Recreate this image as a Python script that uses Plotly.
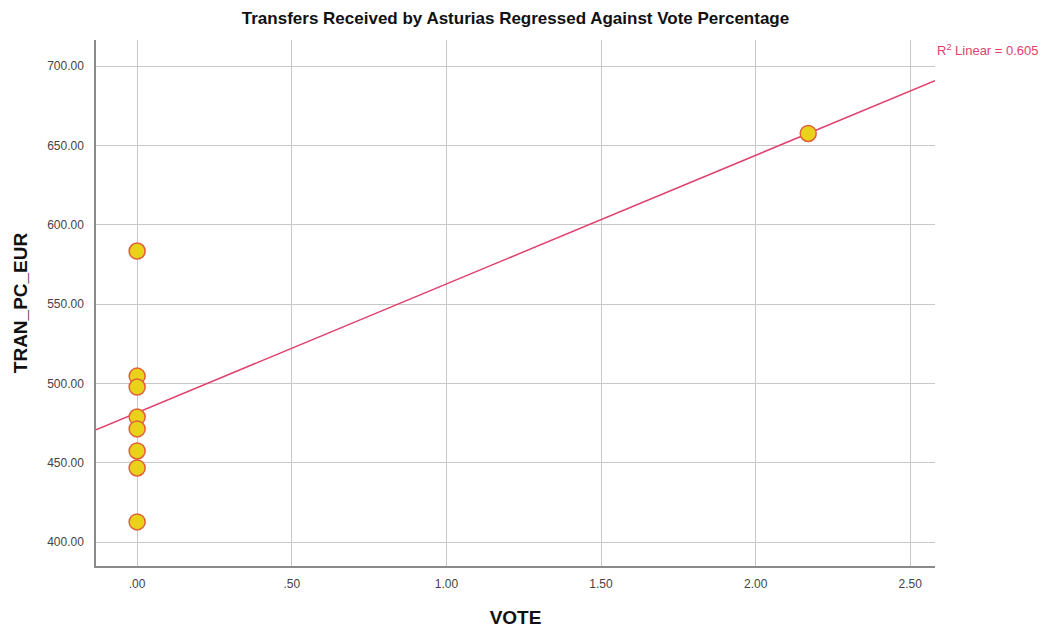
import numpy as np
import plotly.graph_objects as go

# Data
vote = [0.0, 0.0, 0.0, 0.0, 0.0, 0.0, 0.0, 0.0, 2.17]
tran_pc_eur = [583.4, 504.6, 497.7, 478.8, 471.3, 457.4, 446.7, 412.7, 657.5]
x_ticks = [0.0, 0.5, 1.0, 1.5, 2.0, 2.5]
x_tick_labels = [".00", ".50", "1.00", "1.50", "2.00", "2.50"]
y_ticks = [400, 450, 500, 550, 600, 650, 700]
y_tick_labels = ["400.00", "450.00", "500.00", "550.00", "600.00", "650.00", "700.00"]
r2_text = "0.605"

x_range = [-0.133, 2.58]
y_range = [384.9, 716.4]

slope, intercept = np.polyfit(vote, tran_pc_eur, 1)
line_x = np.array(x_range)
line_y = intercept + slope * line_x

FONT = "Liberation Sans, Arial, sans-serif"
LINE_COLOR = "#e0406e"

fig = go.Figure()
fig.add_trace(go.Scatter(
    x=line_x, y=line_y, mode="lines",
    line=dict(color=LINE_COLOR, width=1.5),
    hoverinfo="skip", showlegend=False, cliponaxis=True,
))
fig.add_trace(go.Scatter(
    x=vote, y=tran_pc_eur, mode="markers",
    marker=dict(size=16, color="#e8d31a", line=dict(color="#e0603a", width=1.5)),
    showlegend=False,
))

fig.update_layout(
    width=1048, height=628,
    margin=dict(l=96, r=113, t=40, b=62),
    paper_bgcolor="white", plot_bgcolor="white",
    font=dict(family=FONT, color="#333333"),
    title=dict(
        text="<b>Transfers Received by Asturias Regressed Against Vote Percentage</b>",
        x=(96 + 935) / 2 / 1048, xanchor="center", y=1 - 18 / 628, yanchor="middle",
        font=dict(size=17, color="#111111", family=FONT),
    ),
    xaxis=dict(
        range=x_range, tickvals=x_ticks, ticktext=x_tick_labels,
        showgrid=True, gridcolor="#c8c8c8", gridwidth=1,
        showline=True, linecolor="#8a8a8a", linewidth=1.5,
        zeroline=False, ticks="", automargin=False, ticklabelstandoff=6,
        tickfont=dict(size=12, color="#444444"),
        title=dict(text="<b>VOTE</b>", font=dict(size=19, color="#111111"), standoff=30),
    ),
    yaxis=dict(
        range=y_range, tickvals=y_ticks, ticktext=y_tick_labels,
        showgrid=True, gridcolor="#c8c8c8", gridwidth=1,
        showline=True, linecolor="#8a8a8a", linewidth=1.5,
        zeroline=False, ticks="", automargin=False, ticklabelstandoff=8,
        tickfont=dict(size=12, color="#444444"),
        title=dict(text="<b>TRAN_PC_EUR</b>", font=dict(size=19, color="#111111"), standoff=14),
    ),
    annotations=[dict(
        text="R<sup>2</sup> Linear = " + r2_text,
        xref="paper", yref="paper", x=1.0, y=(566 - 50) / 526,
        xanchor="left", yanchor="middle", showarrow=False,
        font=dict(size=13, color=LINE_COLOR, family=FONT),
    )],
)

fig.write_html("out.html")
